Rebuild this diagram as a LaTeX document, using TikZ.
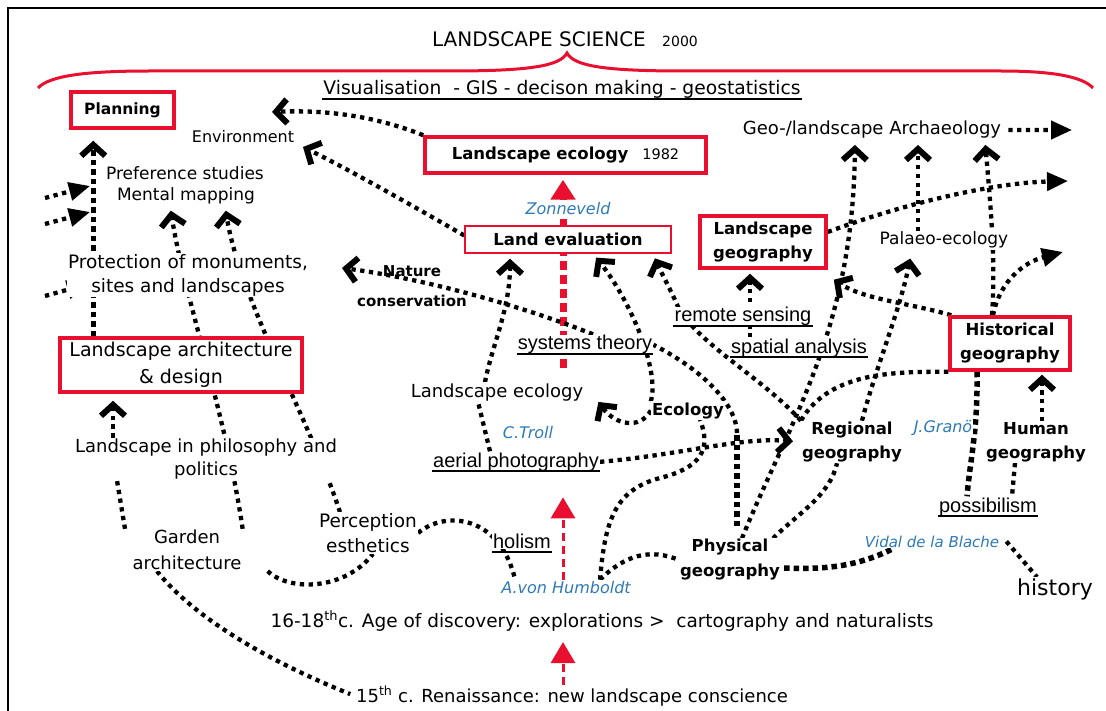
\documentclass[tikz,border=0pt]{standalone}
\usepackage{fontspec}
\setmainfont{DejaVu Sans}
\newfontfamily\arialf{Liberation Sans}
\usetikzlibrary{arrows.meta}
\definecolor{lred}{RGB}{232,16,46}
\definecolor{nblue}{RGB}{46,122,182}
\newcommand{\fz}[2]{\fontsize{#1}{#2}\selectfont}
\pgfdeclarelayer{background}
\pgfsetlayers{background,main}
\begin{document}
\begin{tikzpicture}[x=1pt,y=-1pt,
  txt/.style={fill=white, inner sep=1pt, align=center, font=\fz{18}{22}},
  txta/.style={fill=white, inner sep=1pt, font=\arialf\fz{20}{24}},
  txtn/.style={fill=white, inner sep=1pt, text=nblue, font=\itshape\fz{16}{19}},
  rbox/.style={draw=lred, line width=3.5pt, fill=white, inner sep=0pt, align=center},
  dotl/.style={line width=4.3pt, dash pattern=on 4.3pt off 4.5pt},
  dotlt/.style={line width=5.5pt, dash pattern=on 5.5pt off 4pt},
  chevr/.style={-{Straight Barb[length=11pt,width=24pt,line width=6pt 0]}},
  trih/.style={-{Triangle[length=21pt,width=18pt]}},
  redarr/.style={lred, line width=3pt, dash pattern=on 8pt off 5pt, -{Triangle[length=21pt,width=24pt]}},
  redthk/.style={lred, line width=7pt, dash pattern=on 9pt off 5pt, -{Triangle[length=20pt,width=24pt]}},
  uline/.style={line width=2.8pt},
]
\useasboundingbox (0,0) rectangle (1106,711);
% frame
\draw[line width=2pt] (8,711) -- (8,8) -- (1106,8);
% brace
\draw[lred, line width=3pt] (38,88) .. controls (50,75) and (90,71) .. (150,71) -- (450,71)
  .. controls (530,71) and (560,66) .. (567,53) .. controls (574,66) and (604,71) .. (684,71)
  -- (1000,71) .. controls (1050,71) and (1082,76) .. (1093,88);

% ---------- nodes ----------
\node[txt, font=\fz{20}{24}, anchor=base] (title) at (539,47) {LANDSCAPE SCIENCE};
\node[txt, font=\fz{14}{17}, anchor=base] (yr) at (680,47) {2000};
\node[txt, font=\fz{18.7}{22}, anchor=base] (vis) at (562,95) {Visualisation\ \ -\ GIS\ -\ decison making\ -\ geostatistics};

\node[rbox, minimum width=103pt, minimum height=36pt, font=\bfseries\fz{15.5}{19}] (plan) at (122.5,110) {Planning};
\node[rbox, minimum width=281pt, minimum height=36pt] (lsecol) at (565.5,155) {{\bfseries\fz{16.5}{20}Landscape ecology}\hspace{14pt}{\fz{14.5}{17}1982}};
\node[rbox, line width=1.5pt, minimum width=206pt, minimum height=27pt, font=\bfseries\fz{16.5}{20}] (landeval) at (568,239.5) {Land evaluation};
\node[rbox, minimum width=126pt, minimum height=52pt, font=\bfseries\fz{16.5}{24}] (lsgeo) at (763,242) {Landscape\\geography};
\node[rbox, minimum width=120pt, minimum height=53pt, font=\bfseries\fz{16.5}{24}] (hist) at (1010,343.5) {Historical\\geography};
\node[rbox, minimum width=242pt, minimum height=54pt, font=\fz{19}{27}] (lsarch) at (181,365) {Landscape architecture\\\& design};

\node[txt, font=\fz{16}{19}, anchor=base] (env) at (243,143) {Environment};
\node[txt, font=\fz{17}{20}, anchor=base] (pref) at (185,180) {Preference studies};
\node[txt, font=\fz{17}{20}, anchor=base] (mental) at (186,201) {Mental mapping};
\node[txtn, anchor=base] (zonn) at (568,215) {Zonneveld};
\node[txt, font=\fz{18}{21}, anchor=base] (geoarch) at (872,135) {Geo-/landscape Archaeology};
\node[txt, font=\fz{17}{20}, anchor=base] (palaeo) at (944,245) {Palaeo-ecology};
\node[txt, font=\fz{18.5}{24}] (prot) at (188,275) {Protection of monuments,\\sites and landscapes};
\node[align=center, inner sep=1pt, font=\bfseries\fz{15}{30}] (nature) at (412,286) {Nature\\conservation};
\node[txta, anchor=base] (remote) at (743,322) {remote sensing};
\node[txta, anchor=base] (spatial) at (799,353) {spatial analysis};
\node[txta, anchor=base] (systems) at (585,350) {systems theory};
\node[txt, font=\fz{18}{21}, anchor=base] (lsecol2) at (497,397) {Landscape ecology};
\node[txt, font=\bfseries\fz{16.5}{20}, anchor=base] (ecology) at (688,415) {Ecology};
\node[txtn, anchor=base] (ctroll) at (528,438) {C.Troll};
\node[txta, anchor=base] (aerial) at (516,467) {aerial photography};
\node[txt, font=\bfseries\fz{16.5}{24}] (regional) at (852,442) {Regional\\geography};
\node[txtn, anchor=base] (jgrano) at (943,432) {J.Granö};
\node[txt, font=\bfseries\fz{16.5}{24}] (human) at (1036,442) {Human\\geography};
\node[txt, font=\fz{18}{23}] (philo) at (206,459) {Landscape in philosophy and\\politics};
\node[txt, font=\fz{18}{26}] (garden) at (187,550) {Garden\\architecture};
\node[txt, font=\fz{18.5}{25}] (perception) at (368,533) {Perception\\esthetics};
\node[txta, anchor=base] (holism) at (522,548) {holism};
\node[txtn, anchor=base] (humboldt) at (566,593) {A.von Humboldt};
\node[txt, font=\bfseries\fz{16.5}{25}] (physical) at (730,560) {Physical\\geography};
\node[txta, anchor=base] (possib) at (988,512) {possibilism};
\node[txtn, font=\itshape\fz{15}{18}, anchor=base] (vidal) at (932,547) {Vidal de la Blache};
\node[txt, font=\fz{22}{26}, anchor=base] (history) at (1055,595) {history};
\node[txt, font=\fz{18.5}{22}, anchor=base] (disc) at (602,627) {16-18\textsuperscript{th}c. Age of discovery: explorations >\ \ cartography and naturalists};
\node[txt, font=\fz{18}{21}, anchor=base] (renais) at (572,702) {15\textsuperscript{th} c. Renaissance: new landscape conscience};

% underlines
\foreach \n in {vis,remote,spatial,systems,aerial,holism,possib}
  \draw[uline] ([yshift=-4pt]\n.base west) -- ([yshift=-4pt]\n.base east);

% free ends and bends
\coordinate (envA) at (272,112);
\coordinate (envB) at (303,147);
\coordinate (natA) at (342,268);
\coordinate (histR) at (1063,252);
\coordinate (lsgR) at (1068,181);
\coordinate (geoR) at (1072,130);
\coordinate (pbend) at (737,433);
\coordinate (l1s) at (45,198); \coordinate (l1e) at (90,186);
\coordinate (l2s) at (45,224); \coordinate (l2e) at (90,212);
\coordinate (l3s) at (45,296); \coordinate (l3e) at (88,284);

% ---------- connectors ----------
\begin{pgfonlayer}{background}
% red arrows
\draw[redthk, shorten >=5pt] ([xshift=-22pt,yshift=-18pt]systems.base) -- ([xshift=-2.5pt]lsecol.south);
\draw[redarr, shorten >=25pt] ([xshift=-3pt]humboldt.north) -- ([xshift=47pt]aerial.south);
\draw[redarr, shorten >=10pt] ([xshift=-9pt]renais.north) -- ([xshift=-39pt]disc.south);

% left column
\draw[dotlt, chevr, shorten >=11pt] ([xshift=35pt]lsarch.north west) -- ([xshift=24pt]plan.south west);
\draw[dotl, chevr, shorten >=7pt] ([xshift=-93pt]philo.north) -- ([xshift=-68pt]lsarch.south);
\draw[dotl] ([xshift=-62pt]garden.north) -- ([xshift=-89pt]philo.south);
\draw[dotl, chevr, shorten >=5pt] (garden.north east) .. controls (225,410) and (185,300) .. ([xshift=-16pt]mental.south);
\draw[dotl, chevr, shorten >=5pt] ([xshift=-28pt]perception.north) .. controls (310,420) and (240,300) .. ([xshift=39pt]mental.south);
\draw[dotl, shorten >=5pt] ([xshift=-30pt]garden.south) .. controls (200,625) and (285,668) .. (renais.west);
\draw[dotl] ([xshift=25pt]garden.south east) .. controls (290,592) and (345,590) .. ([xshift=5pt]perception.south);
\draw[dotl] (perception.east) .. controls (445,510) and (500,515) .. ([xshift=15pt]humboldt.north west);
\draw[dotl, trih] (l1s) -- (l1e);
\draw[dotl, trih] (l2s) -- (l2e);
\draw[dotl, trih] (l3s) -- (l3e);

% centre
\draw[dotl, chevr] (lsecol.north west) .. controls (370,114) and (320,110) .. (envA);
\draw[dotl, chevr] ([yshift=4pt]landeval.west) .. controls (420,210) and (350,170) .. (envB);
\draw[dotl, chevr] ([xshift=8pt]systems.north) .. controls (520,305) and (420,278) .. (natA);
\draw[dotl, chevr, shorten >=5pt] ([xshift=-12pt]lsecol2.north) .. controls (492,345) and (510,310) .. ([xshift=-58pt]landeval.south);
\draw[dotl] ([xshift=-26pt]aerial.north) -- ([xshift=-19pt]lsecol2.south);
\draw[dotl, chevr, shorten >=5pt] (ecology.north west) .. controls (660,370) and (630,300) .. ([xshift=25pt]landeval.south);
\draw[dotl, chevr] (ecology.west) .. controls (640,430) and (615,425) .. ([xshift=14pt]lsecol2.south east);
\draw[dotl, chevr, shorten >=8pt] (aerial.east) .. controls (680,455) and (740,437) .. (regional.west);
\draw[dotl] ([xshift=34pt]humboldt.north) .. controls (605,520) and (615,490) .. (660,478) .. controls (700,468) and (712,450) .. ([xshift=12pt]ecology.south);
\draw[dotl] ([xshift=34pt]humboldt.north) .. controls (625,555) and (650,548) .. (physical.west);
\draw[dotlt, shorten <=12pt] ([xshift=7pt]physical.north) -- (pbend);
\draw[dotl] (pbend) .. controls (737,410) and (712,375) .. (systems.east);
\draw[dotl, chevr, shorten >=5pt] (regional.north west) .. controls (760,375) and (690,340) .. (675,300) .. controls (668,285) and (660,270) .. ([xshift=85pt]landeval.south);
\draw[dotl, chevr, shorten >=5pt] ([xshift=12pt]physical.north) .. controls (790,420) and (853,330) .. ([xshift=-17pt]geoarch.south);
\draw[dotl] (hist.south west) .. controls (900,372) and (830,370) .. (regional.north west);

% right part
\draw[dotl] ([xshift=-8pt]physical.north east) .. controls (800,512) and (830,495) .. ([xshift=-15pt]regional.south);
\draw[dotlt] ([xshift=3pt,yshift=-8pt]physical.east) .. controls (830,570) and (860,565) .. ([xshift=30pt]vidal.south west);
\draw[dotl] ([xshift=6pt]vidal.east) -- ([xshift=-18pt]history.north);
\draw[dotlt] ([xshift=-33pt]hist.south) .. controls (978,430) and (970,460) .. ([xshift=-21pt]possib.north);
\draw[dotl] ([xshift=-21pt]human.south) -- ([xshift=24pt]possib.north);
\draw[dotl, chevr, shorten >=3pt] ([xshift=6pt]human.north) -- ([xshift=32pt]hist.south);
\draw[dotl, chevr, shorten >=5pt] ([xshift=-18pt]hist.north) .. controls (996,260) and (990,200) .. ([xshift=113pt]geoarch.south);
\draw[dotl, chevr, shorten >=5pt] ([xshift=-26pt]palaeo.north) -- ([xshift=46pt]geoarch.south);
\draw[dotl, trih] ([xshift=-17pt]hist.north) .. controls (1000,280) and (1025,262) .. (histR);
\draw[dotl, trih] ([yshift=10pt]lsgeo.east) .. controls (900,205) and (990,183) .. (lsgR);
\draw[dotl, trih, shorten <=6pt] (geoarch.east) -- (geoR);
\draw[dotl, chevr] ([xshift=3pt]hist.north west) .. controls (910,303) and (865,300) .. ([xshift=6pt,yshift=-10pt]lsgeo.south east);
\draw[dotl, chevr, shorten >=4pt] ([xshift=-49pt]spatial.north) -- ([xshift=-13pt]lsgeo.south);
\draw[dotl, chevr, shorten >=9pt] ([xshift=10pt]regional.north) .. controls (875,370) and (900,310) .. ([xshift=-32pt]palaeo.south);
\end{pgfonlayer}
\end{tikzpicture}
\end{document}
